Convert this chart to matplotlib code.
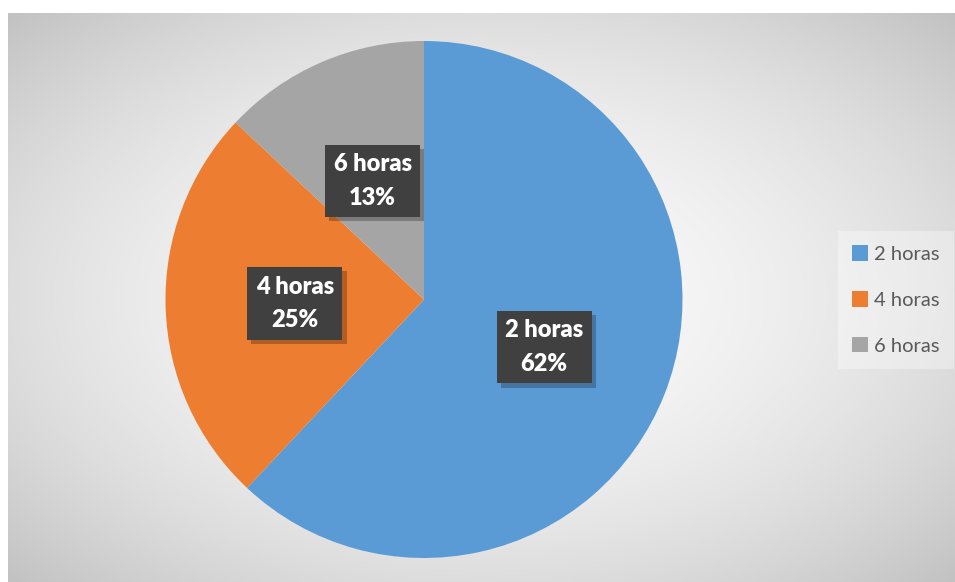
import numpy as np
import matplotlib
matplotlib.use("Agg")
import matplotlib.pyplot as plt
import matplotlib.patheffects as pe

plt.rcParams['font.family'] = ['Lato', 'DejaVu Sans']
plt.rcParams['hatch.color'] = '#555555'
plt.rcParams['hatch.linewidth'] = 1.6

# share of respondents per amount of hours
categories = ["2 horas", "4 horas", "6 horas"]
shares = [62, 25, 13]
colors = ["#5B9BD5", "#ED7D31", "#A5A5A5"]

W, H = 955, 582
fig = plt.figure(figsize=(W / 100, H / 100), dpi=100)
ax = fig.add_axes([0, 0, 1, 1])

# radial grey gradient behind the chart area
x0, x1, y0, y1 = 8, W, 0, H - 13
gx, gy = np.meshgrid(np.linspace(-1, 1, 400), np.linspace(-1, 1, 240))
d = np.sqrt(gx ** 2 + gy ** 2) / np.sqrt(2)
shade = 250 - 56 * d ** 1.9
rgb = np.dstack([shade, shade, shade]) / 255.0
ax.imshow(rgb, extent=(x0, x1, y0, y1), origin="lower", zorder=0,
          interpolation="bilinear", aspect="auto")

cx, cy, r = 424, H - 299.5, 258.5
wedges, _ = ax.pie(shares, colors=colors, startangle=90, counterclock=False,
                   center=(cx, cy), radius=r,
                   wedgeprops=dict(linewidth=0, zorder=2))

# data labels: dark dotted boxes at half radius
start = 90.0
for cat, val in zip(categories, shares):
    mid = np.deg2rad(start - val / 100 * 360 / 2)
    start -= val / 100 * 360
    tx = cx + 0.5 * r * np.cos(mid)
    ty = cy + 0.5 * r * np.sin(mid)
    t = ax.text(tx, ty, f"{cat}\n{val}%", ha="center", va="center",
                color="white", fontsize=17, fontweight="heavy",
                linespacing=1.65, zorder=5,
                bbox=dict(boxstyle="square,pad=0.36", fc="#404040",
                          ec="none", hatch=".."))
    t.get_bbox_patch().set_path_effects(
        [pe.SimplePatchShadow(offset=(3, -3), shadow_rgbFace="black", alpha=0.25),
         pe.Normal()])

leg = ax.legend(wedges, categories, loc="center left",
                bbox_to_anchor=(838 / W, 1 - 300 / H), frameon=True,
                fontsize=14.5, handlelength=0.8, handleheight=0.8,
                handletextpad=0.3, labelspacing=1.4, borderpad=0.7,
                borderaxespad=0, fancybox=False, labelcolor="#595959")
leg.get_frame().set_facecolor("white")
leg.get_frame().set_alpha(0.35)
leg.get_frame().set_edgecolor("none")

ax.set_xlim(0, W)
ax.set_ylim(0, H)
ax.set_aspect("equal")
ax.axis("off")

fig.savefig("out.png", dpi=100)
